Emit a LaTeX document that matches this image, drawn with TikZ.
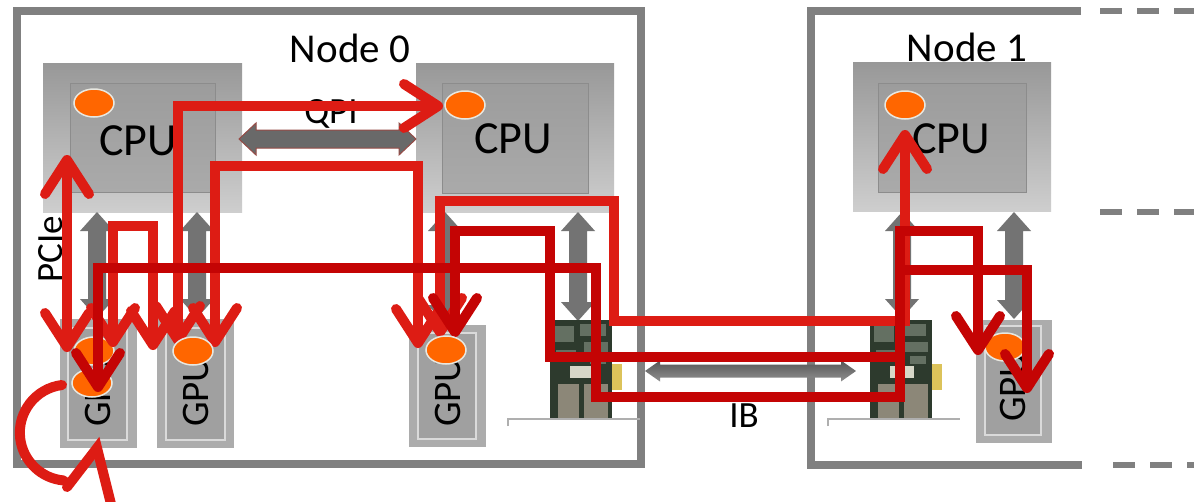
\documentclass[tikz,border=0pt]{standalone}
\usepackage{fontspec}
\setmainfont{Carlito}
\usetikzlibrary{arrows.meta}
\definecolor{brred}{RGB}{221,28,20}
\definecolor{dkred}{RGB}{196,4,4}
\definecolor{framec}{RGB}{128,128,128}
\definecolor{garrow}{RGB}{115,115,115}
\definecolor{orng}{RGB}{255,102,0}
\definecolor{nicg}{RGB}{45,58,45}
\definecolor{nicc}{RGB}{100,112,98}
\definecolor{nicw}{RGB}{215,215,200}
\definecolor{nicp}{RGB}{140,135,120}
\definecolor{nicgold}{RGB}{220,195,90}
\newcommand\gvarrow[3]{%
 \fill[garrow] ({#1-9},{#2+19}) -- ({#1-17},{#2+19}) -- (#1,#2) -- ({#1+17},{#2+19}) -- ({#1+9},{#2+19}) -- ({#1+9},{#3-19}) -- ({#1+17},{#3-19}) -- (#1,#3) -- ({#1-17},{#3-19}) -- ({#1-9},{#3-19}) -- cycle;}
\newcommand\nicboard[1]{%
 \fill[nicg] (#1,320) rectangle ({#1+62},420);
 \fill[nicc] ({#1+4},326) rectangle ({#1+24},342);
 \fill[nicc] ({#1+30},324) rectangle ({#1+56},336);
 \fill[nicc] ({#1+34},342) rectangle ({#1+58},352);
 \fill[nicc] ({#1+6},350) rectangle ({#1+26},362);
 \fill[nicc] ({#1+40},356) rectangle ({#1+56},364);
 \fill[nicw] ({#1+20},366) rectangle ({#1+44},378);
 \fill[nicp] ({#1+8},384) rectangle ({#1+29},418);
 \fill[nicp] ({#1+34},384) rectangle ({#1+58},418);
 \fill[nicgold] ({#1+62},364) rectangle ({#1+72},390);
 \draw[bracket] ({#1-42},426) -- ({#1-42},419) -- ({#1+90},419);}
\tikzset{
 framebox/.style={draw=framec, line width=7.5pt},
 dashln/.style={draw=framec, line width=6pt, dash pattern=on 22pt off 15pt},
 cpuout/.style={top color={rgb,255:red,152;green,152;blue,152}, middle color={rgb,255:red,162;green,162;blue,162}, bottom color={rgb,255:red,206;green,206;blue,206}},
 cpuin/.style={top color={rgb,255:red,156;green,156;blue,156}, bottom color={rgb,255:red,170;green,170;blue,170}, draw={rgb,255:red,140;green,140;blue,140}, line width=1pt},
 gpuout/.style={fill={rgb,255:red,172;green,172;blue,172}},
 gpuin/.style={fill={rgb,255:red,160;green,160;blue,160}, draw={rgb,255:red,218;green,218;blue,218}, line width=1.5pt},
 dot/.style={fill=orng, draw={rgb,255:red,232;green,232;blue,225}, line width=1.5pt},
 qpiarr/.style={fill={rgb,255:red,105;green,105;blue,105}, draw={rgb,255:red,150;green,75;blue,70}, line width=1pt},
 ibarr/.style={top color={rgb,255:red,85;green,85;blue,85}, bottom color={rgb,255:red,145;green,145;blue,145}},
 bracket/.style={draw={rgb,255:red,175;green,175;blue,175}, line width=1.2pt},
 brln/.style={draw=brred, line width=10pt, line join=miter},
 dkln/.style={draw=dkred, line width=10pt, line join=miter},
 lbl/.style={inner sep=0pt, text=black, font=\fontsize{37}{44}\selectfont},
 cpulbl/.style={inner sep=0pt, text=black, font=\fontsize{46}{54}\selectfont},
 nodelbl/.style={inner sep=0pt, text=black, font=\fontsize{41}{48}\selectfont},
 gpulbl/.style={inner sep=0pt, text=black, font=\fontsize{39}{46}\selectfont, rotate=90, anchor=base west},
}
\begin{document}
\begin{tikzpicture}[x=1pt,y=-1pt,>={Straight Barb[length=34pt,width=44pt,round]}]
\useasboundingbox (0,0) rectangle (1194,501);
\fill[white] (0,0) rectangle (1194,501);
% node frames
\draw[framebox] (17,11) rectangle (641,464);
\draw[framebox] (1081,11) -- (811,11) -- (811,465) -- (1082,465);
\draw[dashln] (1100,11) -- (1194,11);
\draw[dashln] (1100,212) -- (1194,212);
\draw[dashln] (1113,465) -- (1194,465);
% CPU boxes
\shade[cpuout] (43,63) rectangle (242,212);
\shade[cpuin] (70,83) rectangle (215,192);
\shade[cpuout] (416,63) rectangle (614,212);
\shade[cpuin] (442,83) rectangle (588,193);
\shade[cpuout] (853,62) rectangle (1051,211);
\shade[cpuin] (878,83) rectangle (1026,192);
% GPU boxes
\fill[gpuout] (60,319) rectangle (137,448);
\filldraw[gpuin] (68,328) rectangle (127,440);
\fill[gpuout] (157,319) rectangle (234,448);
\filldraw[gpuin] (166,328) rectangle (225,440);
\fill[gpuout] (409,325) rectangle (486,447);
\filldraw[gpuin] (418,333) rectangle (476,439);
\fill[gpuout] (976,320) rectangle (1052,443);
\filldraw[gpuin] (985,326) rectangle (1041,435);
% gray PCIe arrows
\gvarrow{97}{212}{318}
\gvarrow{197}{212}{318}
\gvarrow{445}{212}{324}
\gvarrow{578}{212}{321}
\gvarrow{902}{212}{318}
\gvarrow{1014}{212}{319}
% NICs
\nicboard{550}
\nicboard{870}
% QPI and IB arrows
\filldraw[qpiarr] (239,139) -- (256,123) -- (256,130) -- (399,130) -- (399,123) -- (416,139) -- (399,155) -- (399,148) -- (256,148) -- (256,155) -- cycle;
\shade[ibarr] (645,371) -- (660,360.5) -- (660,364.5) -- (841,364.5) -- (841,360.5) -- (856,371) -- (841,381.5) -- (841,377.5) -- (660,377.5) -- (660,381.5) -- cycle;
% labels
\node[nodelbl, anchor=base] (n0lbl) at (350,62) {Node 0};
\node[nodelbl, anchor=base] (n1lbl) at (967,61) {Node 1};
\node[cpulbl, anchor=base] (cpu0lbl) at (138,155) {CPU};
\node[cpulbl, anchor=base] (cpu1lbl) at (513,153) {CPU};
\node[cpulbl, anchor=base] (cpu2lbl) at (951,153) {CPU};
\node[lbl, anchor=base] (qpilbl) at (331,123) {QPI};
\node[lbl, anchor=base] (iblbl) at (744,427) {IB};
\node[lbl, rotate=90, anchor=base west] (pcielbl) at (62,283) {PCIe};
\node[gpulbl] (gpu0lbl) at (110,427) {GPU};
\node[gpulbl] (gpu1lbl) at (208,427) {GPU};
\node[gpulbl] (gpu2lbl) at (460,427) {GPU};
\node[gpulbl] (gpu3lbl) at (1025,422) {GPU};
% orange dots (under the red lines)
\filldraw[dot] (94,103) ellipse [x radius=20, y radius=14];
\filldraw[dot] (905,105) ellipse [x radius=20, y radius=14];
\filldraw[dot] (94,351) ellipse [x radius=20, y radius=14];
\filldraw[dot] (92,383) ellipse [x radius=20, y radius=14];
\filldraw[dot] (1005,347) ellipse [x radius=20, y radius=14];
% end points of the red connectors
\coordinate (cpuA) at (67,155);
\coordinate (gA) at (67,352);
\coordinate (gB1) at (113,347);
\coordinate (gB2) at (153,350);
\coordinate (gC) at (178,345);
\coordinate (cpuC) at (443,106);
\coordinate (gD1) at (215,347);
\coordinate (gD2) at (418,348);
\coordinate (gE) at (440,337);
\coordinate (cpuE) at (905,130);
\coordinate (gF1) at (455,337);
\coordinate (gF2) at (978,355);
\coordinate (gG1) at (98,392);
\coordinate (gG2) at (1027,393);
\coordinate (loopS) at (62,385);
\coordinate (loopT) at (97,448);
% bright red paths
\draw[brln,<->] (cpuA) -- (gA);
\draw[brln,<->] (gB1) -- (113,226) -- (153,226) -- (gB2);
\draw[brln,<->] (gC) -- (178,106) -- (cpuC);
\draw[brln,<->] (gD1) -- (215,166) -- (418,166) -- (gD2);
\draw[brln,<->] (gE) -- (440,201) -- (614,201) -- (614,321) -- (905,321) -- (cpuE);
\draw[brln, line cap=round] (loopS) arc[start angle=263, end angle=95, radius=48];
\draw[brln, line cap=round] (67,487) -- (loopT) -- (112,508);
% dark red paths
\draw[dkln,<->] (gF1) -- (455,231) -- (550,231) -- (550,357) -- (900,357) -- (900,231) -- (978,231) -- (gF2);
\draw[dkln,<->] (gG1) -- (98,268) -- (596,268) -- (596,397) -- (900,397) -- (900,270) -- (1027,270) -- (gG2);
% dots drawn over the red lines
\filldraw[dot] (465,105) ellipse [x radius=20, y radius=14];
\filldraw[dot] (193,351) ellipse [x radius=20, y radius=14];
\filldraw[dot] (446,350) ellipse [x radius=20, y radius=14];
\end{tikzpicture}
\end{document}
